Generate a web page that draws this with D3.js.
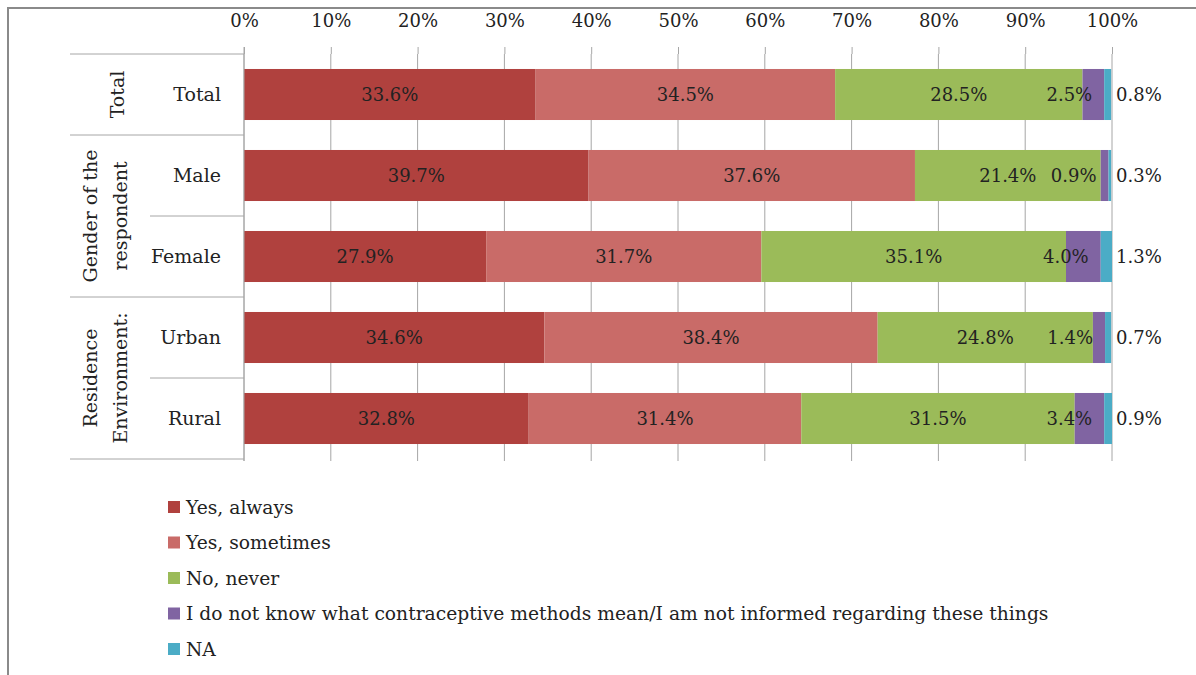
<!DOCTYPE html>
<meta charset="utf-8">
<script src="https://d3js.org/d3.v7.min.js"></script>
<style>
  body { margin: 0; background: #fff; }
  text { font-family: "DejaVu Serif", serif; fill: #222; }
</style>
<div id="my_dataviz"></div>
<script>

// data
var rows = ["Total", "Male", "Female", "Urban", "Rural"];
var groups = [
  {name: ["Total"], first: 0, last: 0},
  {name: ["Gender of the", "respondent"], first: 1, last: 2},
  {name: ["Residence", "Environment:"], first: 3, last: 4}
];
var series = ["Yes, always", "Yes, sometimes", "No, never",
  "I do not know what contraceptive methods mean/I am not informed regarding these things", "NA"];
var yesAlways    = [33.6, 39.7, 27.9, 34.6, 32.8];
var yesSometimes = [34.5, 37.6, 31.7, 38.4, 31.4];
var noNever      = [28.5, 21.4, 35.1, 24.8, 31.5];
var dontKnow     = [2.5, 0.9, 4.0, 1.4, 3.4];
var na           = [0.8, 0.3, 1.3, 0.7, 0.9];
var ticks = [0, 10, 20, 30, 40, 50, 60, 70, 80, 90, 100];
var colors = ["#B0413E", "#C96B68", "#9BBB59", "#8064A2", "#4BACC6"];

var width = 1196, height = 675;
var svg = d3.select("#my_dataviz").append("svg")
  .attr("width", width).attr("height", height);

// outer frame (cropped)
svg.append("path")
  .attr("d", "M8,675 L8,8 L1196,8")
  .attr("fill", "none").attr("stroke", "#8a8a8a").attr("stroke-width", 2);

var x = d3.scaleLinear().domain([0, 100]).range([244, 1112]);
var y = d3.scaleBand().domain(rows).range([54, 459]).paddingInner(0.37).paddingOuter(0.185);
var band = d3.scaleBand().domain(rows).range([54, 459]);

// gridlines + top axis
svg.append("g")
  .attr("transform", "translate(0,54)")
  .call(d3.axisTop(x).tickValues(ticks).tickSize(7).tickFormat(function(d) { return d + "%"; }))
  .call(function(g) {
    g.select(".domain").remove();
    g.selectAll("line").attr("stroke", "#a6a6a6");
    g.selectAll("text").attr("dy", 0).attr("y", -27).style("font-size", "18px")
      .style("font-family", "DejaVu Serif").attr("fill", "#222");
  });
svg.append("g").selectAll("line").data(ticks).enter().append("line")
  .attr("x1", function(d) { return x(d); }).attr("x2", function(d) { return x(d); })
  .attr("y1", 54).attr("y2", 461)
  .attr("stroke", "#a6a6a6").attr("stroke-width", 1);

// stacked data
var table = rows.map(function(r, i) {
  return {row: r, v: [yesAlways[i], yesSometimes[i], noNever[i], dontKnow[i], na[i]]};
});
var stack = d3.stack().keys([0, 1, 2, 3, 4]).value(function(d, k) { return d.v[k]; });
var layers = stack(table);

var layerG = svg.append("g").selectAll("g").data(layers).enter().append("g")
  .attr("fill", function(d, i) { return colors[i]; });
layerG.selectAll("rect").data(function(d) { return d; }).enter().append("rect")
  .attr("x", function(d) { return x(d[0]); })
  .attr("y", function(d) { return y(d.data.row); })
  .attr("width", function(d) { return x(d[1]) - x(d[0]); })
  .attr("height", y.bandwidth());

// value labels
layers.forEach(function(layer, k) {
  svg.append("g").selectAll("text").data(layer).enter().append("text")
    .attr("x", function(d) {
      if (k < 3) return (x(d[0]) + x(d[1])) / 2;
      if (k === 3) return x(d[1]) - 12;
      return x(100) + 4;
    })
    .attr("y", function(d) { return y(d.data.row) + y.bandwidth() / 2; })
    .attr("dy", "0.35em")
    .attr("text-anchor", k < 3 ? "middle" : (k === 3 ? "end" : "start"))
    .style("font-size", "18px")
    .text(function(d) { return d.data.v[k].toFixed(1) + "%"; });
});

// category table on the left
var tbl = svg.append("g").attr("stroke", "#a6a6a6").attr("stroke-width", 1);
tbl.append("line").attr("x1", 244).attr("x2", 244).attr("y1", 47).attr("y2", 461);
rows.forEach(function(r, i) {
  var isGroupStart = groups.some(function(g) { return g.first === i; });
  tbl.append("line")
    .attr("x1", isGroupStart ? 70 : 150).attr("x2", 244)
    .attr("y1", band(r)).attr("y2", band(r));
});
tbl.append("line").attr("x1", 70).attr("x2", 244).attr("y1", 459).attr("y2", 459);

svg.append("g").selectAll("text").data(rows).enter().append("text")
  .attr("x", 221)
  .attr("y", function(d) { return band(d) + band.bandwidth() / 2; })
  .attr("dy", "0.35em")
  .attr("text-anchor", "end")
  .style("font-size", "19px")
  .text(function(d) { return d; });

// rotated group labels (baseline positions measured from the left edge)
groups.forEach(function(g) {
  var cy = (band(rows[g.first]) + band(rows[g.last]) + band.bandwidth()) / 2;
  var t = svg.append("text")
    .attr("transform", "translate(0," + cy + ") rotate(-90)")
    .attr("text-anchor", "middle")
    .style("font-size", "19px");
  var base = g.name.length === 1 ? [124] : [97, 127];
  g.name.forEach(function(line, j) {
    t.append("tspan").attr("x", 0).attr("y", base[j]).text(line);
  });
});

// legend
var legend = svg.append("g").selectAll("g").data(series).enter().append("g")
  .attr("transform", function(d, i) { return "translate(168," + (507 + i * 35.5) + ")"; });
legend.append("rect")
  .attr("x", 0).attr("y", -6).attr("width", 12).attr("height", 12)
  .attr("fill", function(d, i) { return colors[i]; });
legend.append("text")
  .attr("x", 18).attr("dy", "0.35em")
  .style("font-size", "18.7px")
  .text(function(d) { return d; });

</script>
